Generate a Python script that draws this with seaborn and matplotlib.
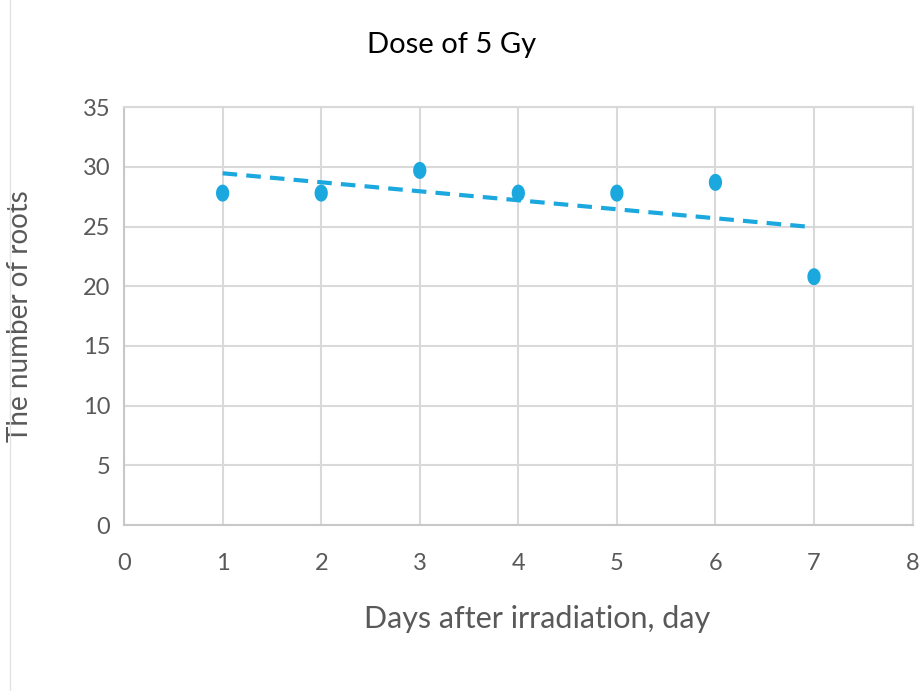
import numpy as np
import pandas as pd
import matplotlib
matplotlib.use("Agg")
import matplotlib.pyplot as plt
from matplotlib.lines import Line2D
import seaborn as sns

days = [1, 2, 3, 4, 5, 6, 7]
roots = [27.8, 27.8, 29.7, 27.8, 27.8, 28.7, 20.8]
x_ticks = [0, 1, 2, 3, 4, 5, 6, 7, 8]
y_ticks = [0, 5, 10, 15, 20, 25, 30, 35]

df = pd.DataFrame({"day": days, "roots": roots})

sns.set_style("white")
plt.rcParams["font.family"] = ["Lato", "DejaVu Sans"]

blue = "#1ba8df"
grid_c = "#d9d9d9"
text_c = "#595959"

fig = plt.figure(figsize=(9.19, 6.91), dpi=100)
ax = fig.add_axes([0.135, 0.240, 0.858, 0.605])

# narrow ellipse marker like the stretched original
t = np.linspace(0, 2 * np.pi, 40)
ellipse = np.column_stack([0.78 * np.cos(t), np.sin(t)])

sns.regplot(data=df, x="day", y="roots", ax=ax, ci=None, scatter=False,
            line_kws=dict(color=blue, lw=3, ls=(0, (3.5, 2.2))))
sns.scatterplot(data=df, x="day", y="roots", ax=ax, marker=ellipse, s=150,
                color=blue, edgecolor="none", zorder=4)

ax.set_xlim(0, 8)
ax.set_ylim(0, 35)
ax.set_xticks(x_ticks)
ax.set_yticks(y_ticks)
ax.grid(True, color=grid_c, lw=1.5)
ax.set_axisbelow(True)
for s in ax.spines.values():
    s.set_color(grid_c)
    s.set_linewidth(1.5)
ax.spines["left"].set_color("#c8c8c8")
ax.spines["bottom"].set_color("#c8c8c8")
ax.tick_params(length=0, labelsize=17, colors=text_c)
ax.tick_params(axis="x", pad=20)
ax.tick_params(axis="y", pad=10)

ax.set_xlabel("Days after irradiation, day", fontsize=22, color=text_c)
ax.xaxis.set_label_coords(0.524, -0.19)
ax.set_ylabel("The number of roots", fontsize=20, color=text_c)
ax.yaxis.set_label_coords(-0.116, 0.5)
fig.text(0.491, 0.935, "Dose of 5 Gy", ha="center", va="center", fontsize=21, color="black")

fig.add_artist(Line2D([0.011, 0.011], [0.0, 1.0], color="#e3e3e3", lw=1, transform=fig.transFigure))

fig.savefig("out.png", dpi=100)
